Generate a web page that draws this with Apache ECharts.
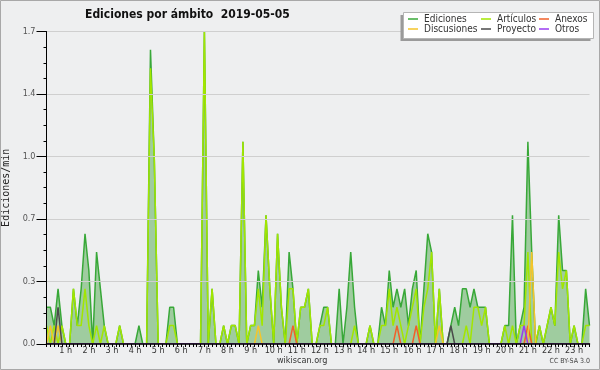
<!DOCTYPE html>
<html>
<head>
<meta charset="utf-8">
<script src="https://cdn.jsdelivr.net/npm/echarts@6/dist/echarts.min.js"></script>
<style>
html,body{margin:0;padding:0;background:#eeeff0;}
#chart{width:600px;height:370px;}
</style>
</head>
<body>
<div id="chart"></div>
<script>
// ---- data (10-minute bins, edits per minute) ----
const hourLabels = ['1 h','2 h','3 h','4 h','5 h','6 h','7 h','8 h','9 h','10 h','11 h','12 h',
  '13 h','14 h','15 h','16 h','17 h','18 h','19 h','20 h','21 h','22 h','23 h'];
const yTicks = [0, 0.34, 0.68, 1.02, 1.36, 1.7];
const seriesNames = ['Ediciones','Artículos','Anexos','Discusiones','Proyecto','Otros'];

const ediciones = [
0.2,0.2,0.1,0.3,0.1,0,0,0.3,0.1,0.3,0.6,0.4,
0,0.5,0.3,0.1,0,0,0,0.1,0,0,0,0,
0.1,0,0,1.6,1.0,0,0,0,0.2,0.2,0,0,
0,0,0,0,0,1.7,0,0.3,0,0,0.1,0,
0.1,0.1,0,1.1,0,0.1,0.1,0.4,0.2,0.7,0.3,0,
0.6,0.2,0,0.5,0.3,0,0.2,0.2,0.3,0,0,0.1,
0.2,0.2,0,0,0.3,0,0.2,0.5,0.2,0,0,0,
0.1,0,0,0.2,0.1,0.4,0.2,0.3,0.2,0.3,0.1,0.3,
0.4,0,0.3,0.6,0.5,0,0.3,0,0,0.1,0.2,0.1,
0.3,0.3,0.2,0.3,0.2,0.2,0.2,0,0,0,0,0.1,
0.1,0.7,0,0.1,0.2,1.1,0.5,0,0.1,0,0.1,0.2,
0.1,0.7,0.4,0.4,0,0.1,0,0,0.3,0.1
];
const articulos = [
0.1,0,0.1,0,0.1,0,0,0.3,0.1,0.1,0.3,0.1,
0,0.1,0,0.1,0,0,0,0.1,0,0,0,0,
0,0,0,1.5,1.0,0,0,0,0.1,0.1,0,0,
0,0,0,0,0,1.7,0,0.3,0,0,0.1,0,
0.1,0.1,0,1.1,0,0.1,0.1,0.3,0.1,0.7,0.3,0,
0.6,0.2,0,0.3,0.3,0,0.2,0.2,0.3,0,0,0.1,
0.1,0.2,0,0,0,0,0,0,0.1,0,0,0,
0.1,0,0,0.1,0.1,0.3,0.1,0.2,0.1,0,0.1,0.2,
0.3,0,0.2,0.3,0.5,0,0.3,0,0,0,0,0,
0,0.1,0,0.2,0.2,0.1,0.2,0,0,0,0,0.1,
0,0.1,0,0.1,0.1,0.5,0,0,0.1,0,0.1,0.2,
0.1,0.5,0.3,0.4,0,0.1,0,0,0.1,0.1
];
const anexos = [
0,0,0,0,0,0,0,0,0,0,0,0,
0,0,0,0,0,0,0,0,0,0,0,0,
0,0,0,0,0,0,0,0,0,0,0,0,
0,0,0,0,0,0,0,0,0,0,0,0,
0,0,0,0,0,0,0,0,0,0,0,0,
0,0,0,0,0.1,0,0,0,0,0,0,0,
0,0,0,0,0,0,0,0,0,0,0,0,
0,0,0,0,0,0,0,0.1,0,0,0,0,
0.1,0,0,0,0,0,0,0,0,0,0,0,
0,0,0,0,0,0,0,0,0,0,0,0,
0,0,0,0,0,0.1,0,0,0,0,0,0,
0,0,0,0,0,0,0,0,0,0
];
const discusiones = [
0,0.1,0,0.1,0,0,0,0,0,0,0,0,
0,0,0,0,0,0,0,0,0,0,0,0,
0,0,0,0,0,0,0,0,0,0,0,0,
0,0,0,0,0,0,0,0,0,0,0,0,
0,0,0,0,0,0,0,0.1,0,0,0,0,
0,0,0,0,0,0,0,0,0,0,0,0,
0,0,0,0,0,0,0,0,0,0,0,0,
0,0,0,0,0,0,0,0,0,0,0,0,
0,0,0,0,0,0,0.1,0,0,0,0,0,
0,0,0,0,0,0,0,0,0,0,0,0,
0,0,0,0,0,0,0.5,0,0,0,0,0,
0,0,0,0,0,0,0,0,0,0
];
const proyecto = [
0,0,0,0.2,0,0,0,0,0,0,0,0,
0,0,0,0,0,0,0,0,0,0,0,0,
0,0,0,0,0,0,0,0,0,0,0,0,
0,0,0,0,0,0,0,0,0,0,0,0,
0,0,0,0,0,0,0,0,0,0,0,0,
0,0,0,0,0,0,0,0,0,0,0,0,
0,0,0,0,0,0,0,0,0,0,0,0,
0,0,0,0,0,0,0,0,0,0,0,0,
0,0,0,0,0,0,0,0,0,0.1,0,0,
0,0,0,0,0,0,0,0,0,0,0,0,
0,0,0,0,0,0,0,0,0,0,0,0,
0,0,0,0,0,0,0,0,0,0
];
const otros = [
0,0,0,0,0,0,0,0,0,0,0,0,
0,0,0,0,0,0,0,0,0,0,0,0,
0,0,0,0,0,0,0,0,0,0,0,0,
0,0,0,0,0,0,0,0,0,0,0,0,
0,0,0,0,0,0,0,0,0,0,0,0,
0,0,0,0,0,0,0,0,0,0,0,0,
0,0,0,0,0,0,0,0,0,0,0,0,
0,0,0,0,0,0,0,0,0,0,0,0,
0,0,0,0,0,0,0,0,0,0,0,0,
0,0,0,0,0,0,0,0,0,0,0,0,
0,0,0,0,0.1,0,0,0,0,0,0,0,
0,0,0,0,0,0,0,0,0,0
];
// category per 10-minute bin (bin end time 00:10 ... 23:40)
const times = [];
for (let i = 0; i < ediciones.length; i++) {
  const m = (i + 1) * 10;
  times.push(String(Math.floor(m / 60)).padStart(2, '0') + ':' + String(m % 60).padStart(2, '0'));
}

const COND = "'DejaVu Sans Condensed', 'DejaVu Sans', sans-serif";
const colors = ['#38a838', '#a2e600', '#f0602a', '#f5c52a', '#4a4a4a', '#9a3cf0'];
const dataSets = [ediciones, articulos, anexos, discusiones, proyecto, otros];

const chart = echarts.init(document.getElementById('chart'), null, {renderer: 'canvas'});

const series = seriesNames.map((name, k) => {
  const s = {
    name: name,
    type: 'line',
    data: dataSets[k],
    symbol: 'none',
    z: 3 + k,
    lineStyle: {color: colors[k], width: 1.5},
    itemStyle: {color: colors[k]},
    animation: false
  };
  if (k === 0) s.areaStyle = {color: '#9fcc9f', opacity: 1};
  return s;
});

function legendCol(left, names) {
  return {
    left: left, top: 14, orient: 'vertical', padding: 0, itemGap: 0, z: 70,
    icon: 'rect', itemWidth: 10, itemHeight: 1.5,
    data: names,
    selectedMode: false,
    textStyle: {fontFamily: COND, fontSize: 10, color: '#333', lineHeight: 10, padding: [0, 0, 0, 1]}
  };
}

chart.setOption({
  backgroundColor: '#eeeff0',
  animation: false,
  color: colors,
  title: {
    text: 'Ediciones por ámbito  2019-05-05',
    left: 85, top: 9, padding: 0,
    textStyle: {fontFamily: COND, fontWeight: 'bold', fontSize: 12, color: '#111'}
  },
  legend: [
    legendCol(408, ['Ediciones', 'Discusiones']),
    legendCol(481, ['Artículos', 'Proyecto']),
    legendCol(539, ['Anexos', 'Otros'])
  ],
  grid: {left: 46.5, right: 10.5, top: 31.5, bottom: 26, containLabel: false, outerBoundsMode: 'none'},
  xAxis: {
    type: 'category',
    data: times,
    boundaryGap: false,
    z: 20,
    axisLine: {show: true, lineStyle: {color: '#000', width: 1.5}},
    axisTick: {show: true, interval: 0, length: 3, lineStyle: {color: '#000'}},
    axisLabel: {
      interval: (idx) => (idx + 1) % 6 === 0,
      formatter: (v, idx) => hourLabels[(idx + 1) / 6 - 1] || '',
      margin: 2,
      fontFamily: COND, fontSize: 9, color: '#333'
    },
    splitLine: {show: false}
  },
  yAxis: {
    type: 'value',
    min: yTicks[0], max: yTicks[yTicks.length - 1], interval: yTicks[1],
    z: 20,
    name: 'Ediciones/min',
    nameLocation: 'middle',
    nameGap: 25,
    nameRotate: 90,
    nameTextStyle: {fontFamily: "'DejaVu Sans Mono', monospace", fontSize: 10, color: '#222'},
    axisLine: {show: true, lineStyle: {color: '#000', width: 1}},
    axisTick: {show: true, length: 10, lineStyle: {color: '#000'}},
    minorTick: {show: true, splitNumber: 4, length: 3, lineStyle: {color: '#000'}},
    axisLabel: {
      margin: 11,
      formatter: (v) => v.toFixed(1),
      fontFamily: "'Liberation Sans Narrow', " + COND, fontSize: 9, color: '#555'
    },
    splitLine: {show: true, lineStyle: {color: '#cfcfcf', width: 1}}
  },
  graphic: [
    {type: 'rect', z: -1, silent: true, shape: {x: 0.5, y: 0.5, width: 599, height: 369},
      style: {fill: null, stroke: '#a8a8a8', lineWidth: 1}},
    {type: 'rect', z: 50, silent: true, shape: {x: 400.5, y: 15, width: 190, height: 26},
      style: {fill: '#9a9a9a'}},
    {type: 'rect', z: 51, silent: true, shape: {x: 403.5, y: 12.5, width: 190, height: 26},
      style: {fill: '#ffffff', stroke: '#b5b5b5', lineWidth: 1}},
    {type: 'text', z: 60, silent: true, left: 277, top: 356,
      style: {text: 'wikiscan.org', fontFamily: COND, fontSize: 9, fill: '#333'}},
    {type: 'text', z: 60, silent: true, right: 10, top: 358,
      style: {text: 'CC BY-SA 3.0', fontFamily: COND, fontSize: 7, fill: '#444'}}
  ],
  series: series
});
</script>
</body>
</html>
